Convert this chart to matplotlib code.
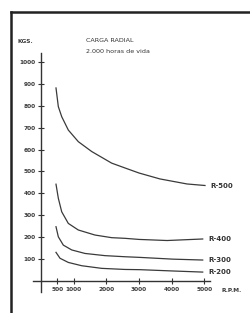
import matplotlib.pyplot as plt
from matplotlib.lines import Line2D

# lecturas de la grafica (r.p.m. -> kgs)
rpm_500 = [459, 530, 634, 836, 1142, 1552, 2164, 2571, 3000, 3640, 4470, 5020]
kgs_500 = [881, 796, 750, 689, 636, 591, 538, 516, 493, 466, 443, 436]

rpm_400 = [459, 530, 634, 836, 1142, 1653, 2164, 2571, 3000, 3860, 4950]
kgs_400 = [442, 378, 316, 263, 233, 210, 198, 195, 190, 185, 192]

rpm_300 = [459, 530, 683, 940, 1347, 1959, 2571, 3030, 4040, 4950]
kgs_300 = [248, 202, 164, 142, 126, 116, 111, 108, 100, 96]

rpm_200 = [459, 582, 836, 1246, 1858, 2571, 3030, 4040, 4950]
kgs_200 = [131, 104, 85, 70, 58, 53, 52, 46, 41]

series = [("R-500", rpm_500, kgs_500), ("R-400", rpm_400, kgs_400),
          ("R-300", rpm_300, kgs_300), ("R-200", rpm_200, kgs_200)]

y_ticks = [100, 200, 300, 400, 500, 600, 700, 800, 900, 1000]
x_ticks = [500, 1000, 2000, 3000, 4000, 5000]

fig = plt.figure(figsize=(2.5, 3.13), dpi=100)
ax = fig.add_axes([0.132, 0.067, 0.708, 0.764])
ax.set_xlim(-245, 5173)
ax.set_ylim(-50, 1041)

for s in ["top", "right"]:
    ax.spines[s].set_visible(False)
ax.spines["left"].set_position(("data", 0))
ax.spines["bottom"].set_position(("data", 0))
for s in ["left", "bottom"]:
    ax.spines[s].set_linewidth(1.0)
    ax.spines[s].set_color("#333333")

ax.set_xticks(x_ticks)
ax.set_yticks(y_ticks)
ax.set_xticklabels([str(v) for v in x_ticks])
ax.set_yticklabels([str(v) for v in y_ticks])
ax.tick_params(direction="inout", length=4, width=0.8, color="#333333",
               labelsize=4.2, labelcolor="#3a3a3a", pad=2)
for lab in ax.get_xticklabels() + ax.get_yticklabels():
    lab.set_fontweight("bold")

for name, xs, ys in series:
    ax.plot(xs, ys, color="#3a3a3a", lw=0.9, solid_joinstyle="round")
    ax.annotate(name, xy=(xs[-1], ys[-1]), xytext=(4, 0),
                textcoords="offset points", va="center", ha="left",
                fontsize=5, fontweight="bold", color="#333333")

fig.text(0.068, 0.869, "KGS.", fontsize=4.2, fontweight="bold", color="#3a3a3a", va="center")
fig.text(0.344, 0.872, "CARGA RADIAL", fontsize=4.6, color="#333333", va="center")
fig.text(0.344, 0.834, "2.000 horas de vida", fontsize=4.6, color="#333333", va="center")
fig.text(0.888, 0.073, "R.P.M.", fontsize=4.2, fontweight="bold", color="#3a3a3a", va="center")

# marco
fig.add_artist(Line2D([0.044, 0.044], [0.0, 0.962], color="#222222", lw=1.8))
fig.add_artist(Line2D([0.044, 1.0], [0.962, 0.962], color="#222222", lw=1.8))

fig.savefig("out.png", dpi=100)
